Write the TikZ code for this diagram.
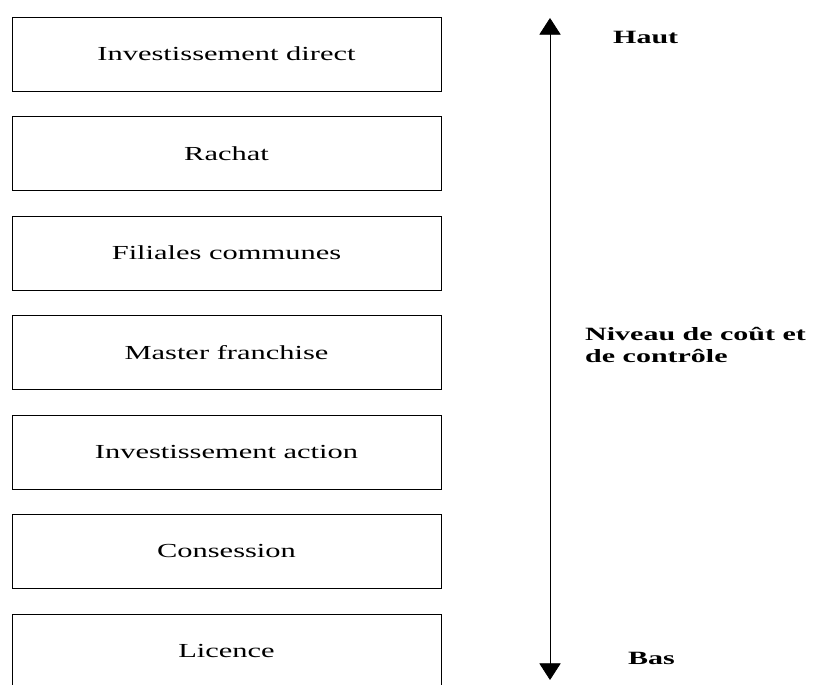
\documentclass[tikz,border=0pt]{standalone}
\usepackage{fontspec}
\setmainfont[FakeStretch=1.53]{Liberation Serif}
\newfontfamily\levelfont[FakeStretch=1.6]{Liberation Serif}
\usetikzlibrary{positioning}
\usetikzlibrary{arrows.meta}

\begin{document}
\begin{tikzpicture}[
    modebox/.style={draw, line width=0.7pt, minimum width=12.87cm,
        minimum height=2.22cm, inner sep=0pt,
        font=\fontsize{17}{20}\selectfont},
    levellabel/.style={anchor=west, inner sep=0pt, align=left,
        font=\levelfont\bfseries\fontsize{16}{18}\selectfont},
    node distance=0.74cm
  ]
  \useasboundingbox (0,0) rectangle (24.42,20.52);
  \clip (0,0) rectangle (24.42,20.52);

  % entry modes, from highest to lowest
  \node[modebox] (direct) at (6.795,18.9) {Investissement direct};
  \node[modebox, below=of direct] (rachat) {Rachat};
  \node[modebox, below=of rachat] (filiales) {Filiales communes};
  \node[modebox, below=of filiales] (master) {Master franchise};
  \node[modebox, below=of master] (action) {Investissement action};
  \node[modebox, below=of action] (consession) {Consession};
  \node[modebox, below=of consession] (licence) {Licence};

  % scale of cost and control
  \coordinate (haut) at (16.5,19.98);
  \coordinate (bas) at (16.5,0.12);
  \draw[line width=0.6pt, {Triangle[length=0.5cm,width=0.64cm]}-{Triangle[length=0.5cm,width=0.64cm]}]
    (haut) -- (bas);

  \node[levellabel] (hautlabel) at (18.39,19.41) {Haut};
  \node[levellabel] (baslabel) at (18.84,0.78) {Bas};
  \node[levellabel] (niveau) at (17.55,10.17) {Niveau de coût et\\de contrôle};
\end{tikzpicture}
\end{document}
